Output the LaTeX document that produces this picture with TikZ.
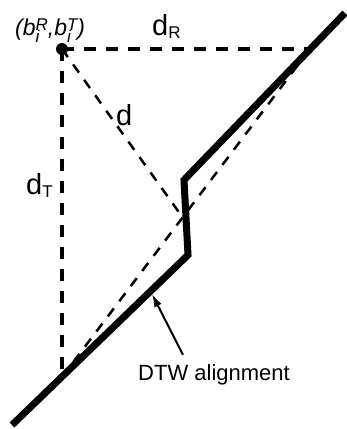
\documentclass[tikz,border=0pt]{standalone}
\usepackage{fontspec}
\setmainfont{Liberation Sans}
\usetikzlibrary{arrows.meta}
\newcommand{\subd}[1]{d\raisebox{-3pt}{\fontsize{17}{17}\selectfont #1}}
\newcommand{\bsup}[2]{b\rlap{\raisebox{-7pt}{\fontsize{17}{17}\selectfont #2}}\raisebox{5pt}{\fontsize{17}{17}\selectfont #1}}
\begin{document}
\begin{tikzpicture}[x=1pt,y=-1pt,every node/.style={inner sep=0pt},
  warp/.style={line width=7pt},
  side/.style={line width=4.5pt,dash pattern=on 12pt off 10pt},
  diag/.style={line width=2.5pt,dash pattern=on 10pt off 9pt},
  pointer/.style={-{Latex[length=13pt,width=8pt]},line width=2pt}]
\useasboundingbox (0,0) rectangle (347,429);
% warping path and the cell corners
\foreach \n/\x/\y in {w0/12/425,w1/188/255,w2/184/180,w3/345/13} {\coordinate (\n) at (\x,\y);}
\coordinate (b) at (62,49); \coordinate (cR) at (310,49); \coordinate (cT) at (62,377);
\coordinate (m) at (186,222); \coordinate (tip) at (152,294);
% distances
\draw[side] (b) -- (cR);
\draw[side] (b) -- (cT);
\draw[diag] (b) -- (m);
\draw[diag] (cT) -- (cR);
\draw[warp] (w0) -- (w1) -- (w2) -- (w3);
\fill (b) circle[radius=6pt];
% labels
\node[anchor=base west,font=\fontsize{23}{23}\selectfont\itshape] (pt) at (15,35) {(\bsup{R}{i},\bsup{T}{i})};
\node[anchor=base west,font=\fontsize{29}{29}\selectfont] (lR) at (152,35) {\subd{R}};
\node[anchor=base west,font=\fontsize{29}{29}\selectfont] (ld) at (116,125) {d};
\node[anchor=base west,font=\fontsize{29}{29}\selectfont] (lT) at (26,194) {\subd{T}};
\node[anchor=base west,font=\fontsize{22}{22}\selectfont] (lbl) at (138,380) {DTW alignment};
\draw[pointer] ([xshift=45pt,yshift=9pt]lbl.north west) -- (tip);
\end{tikzpicture}
\end{document}
